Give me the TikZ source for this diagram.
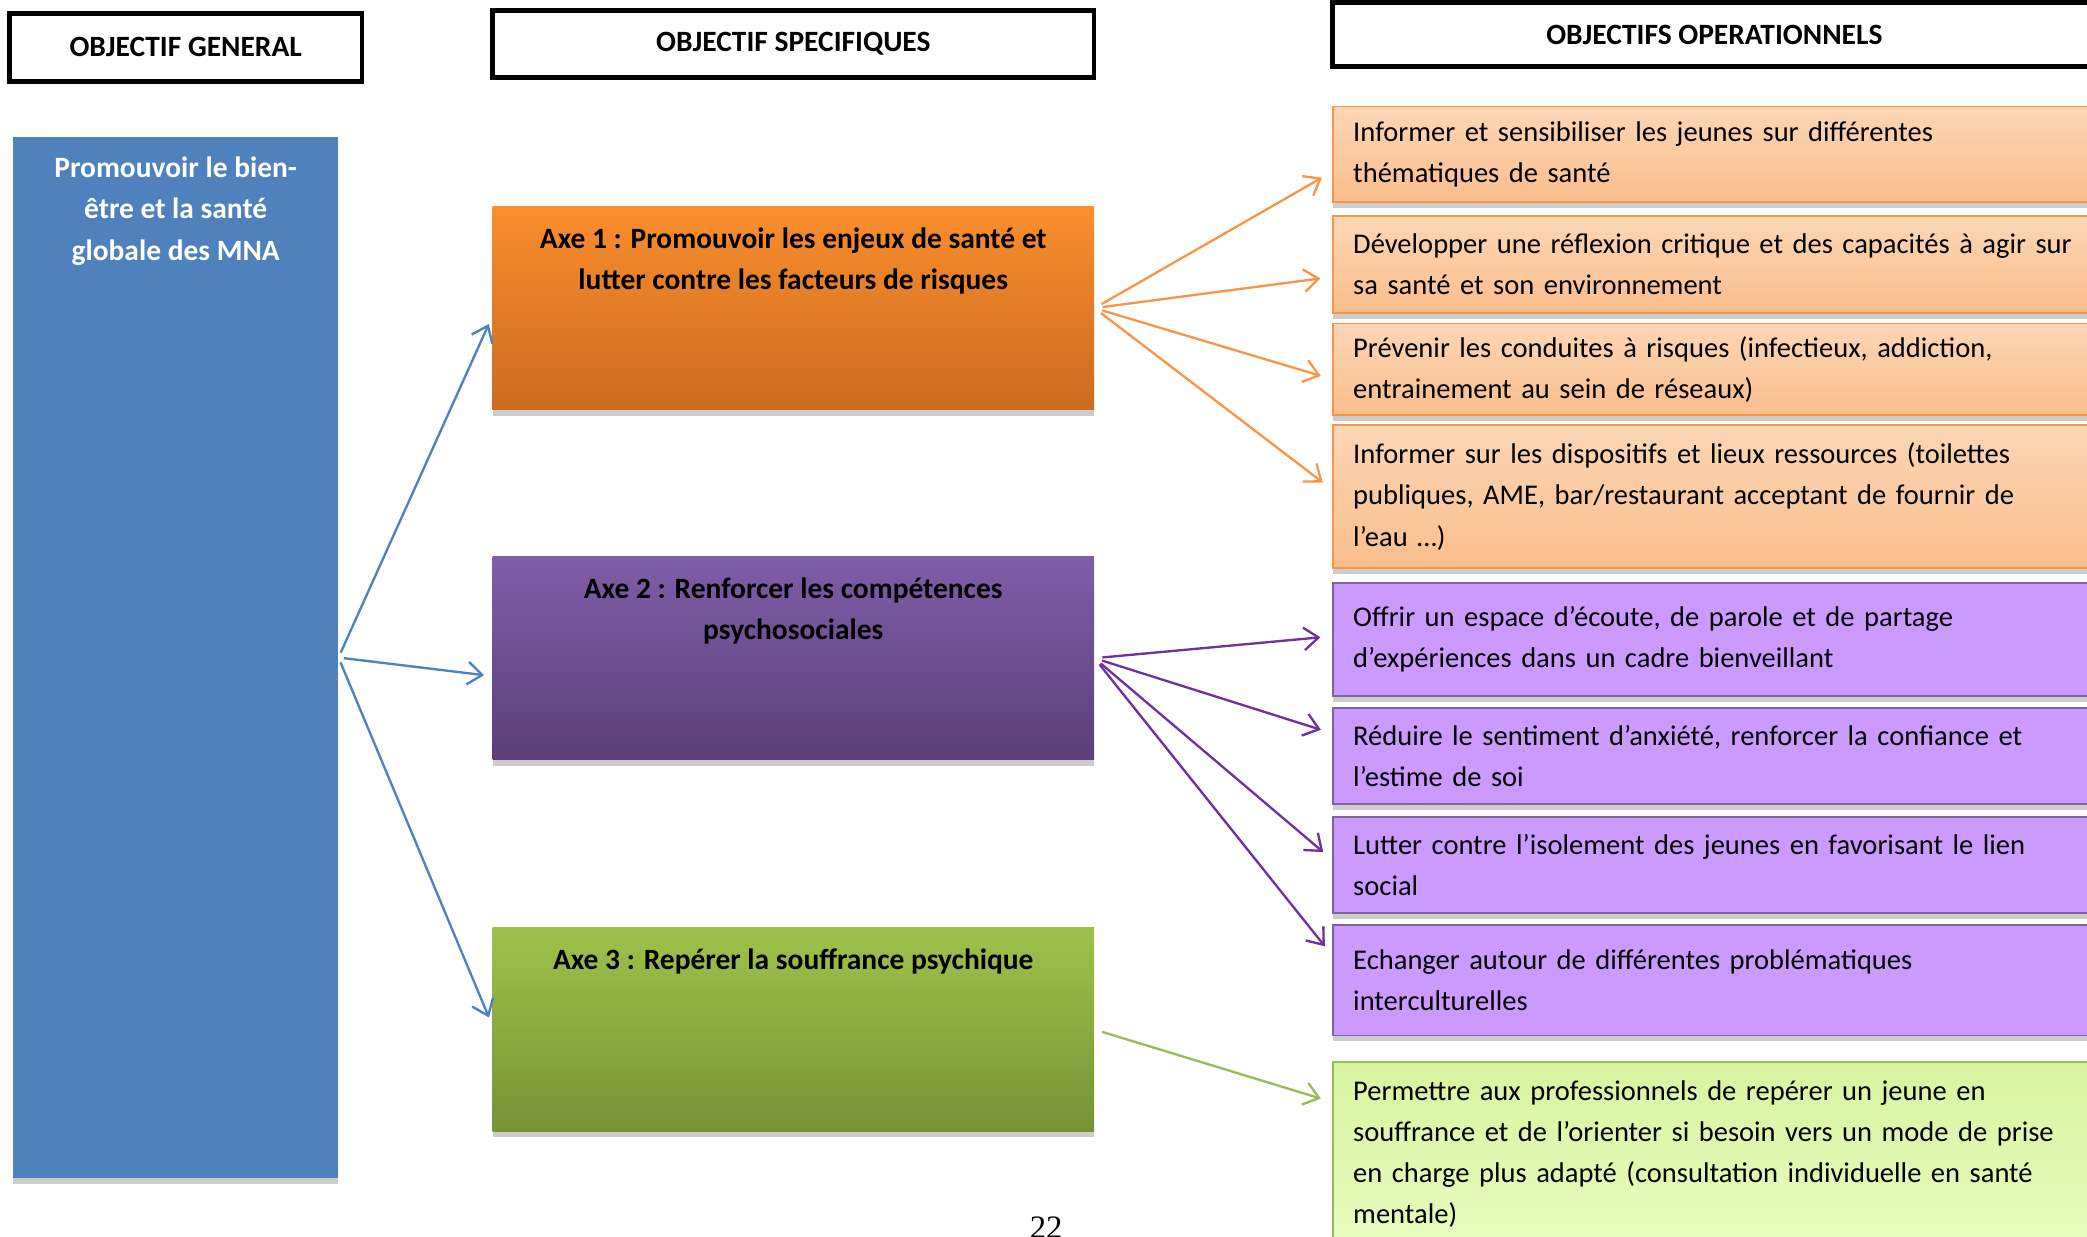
\documentclass[tikz,border=0pt]{standalone}
\usepackage{fontspec}
\setmainfont{Carlito}
\newfontfamily\pagefont{Liberation Serif}
\usetikzlibrary{positioning,arrows.meta,shadows}
\definecolor{genblue}{RGB}{79,129,189}
\definecolor{axeorange}{RGB}{250,142,45}
\definecolor{axeorangedark}{RGB}{203,106,32}
\definecolor{axepurple}{RGB}{128,93,168}
\definecolor{axepurpledark}{RGB}{92,62,120}
\definecolor{axegreen}{RGB}{157,194,75}
\definecolor{axegreendark}{RGB}{118,147,53}
\definecolor{oporange}{RGB}{252,214,182}
\definecolor{oporangedark}{RGB}{250,190,140}
\definecolor{opborder}{RGB}{247,150,70}
\definecolor{oppurple}{RGB}{204,153,255}
\definecolor{oppurpleborder}{RGB}{128,100,162}
\definecolor{opgreen}{RGB}{214,244,160}
\definecolor{opgreenlight}{RGB}{232,251,190}
\definecolor{opgreenborder}{RGB}{155,187,89}
\definecolor{arrowpurple}{RGB}{112,48,160}
\newcommand{\txtsize}{\fontsize{12.2}{17.6}\selectfont}
\newcommand{\boldsize}{\fontsize{12.6}{17.6}\selectfont\bfseries}

\begin{document}
\begin{tikzpicture}[x=0.02cm,y=-0.02cm,>={Straight Barb[length=2.2mm,width=3.4mm]},
	font=\txtsize,
	header/.style={draw,line width=2pt,fill=white,inner sep=0pt,font=\boldsize},
	boxshadow/.style={drop shadow={shadow xshift=0pt,shadow yshift=-2.5pt,fill=black!20,opacity=1}},
	axebox/.style={boxshadow,minimum width=9.04cm,minimum height=3.06cm,inner sep=0pt},
	axetext/.style={inner sep=0pt,align=center,font=\boldsize},
	opbox/.style={boxshadow,anchor=west,minimum width=11.58cm,text width=11.5cm,inner xsep=0.3cm,inner ysep=0pt,align=left,line width=0.8pt},
	oporangebox/.style={opbox,draw=opborder,top color=oporange,bottom color=oporangedark},
	oppurplebox/.style={opbox,draw=oppurpleborder,fill=oppurple},
	opgreenbox/.style={opbox,draw=opgreenborder,top color=opgreen,bottom color=opgreenlight},
	link/.style={->,line width=1pt,shorten <=0.12cm,shorten >=0.18cm}]
\useasboundingbox (0,0) rectangle (1568,929);
\clip (0,0) rectangle (1568,929);

\node[header,minimum width=5.30cm,minimum height=1.02cm] (hgen) at (139.5,35.5) {OBJECTIF GENERAL};
\node[header,minimum width=9.04cm,minimum height=1.0cm] (hspec) at (596,33) {OBJECTIF SPECIFIQUES};
\node[header,minimum width=11.48cm,minimum height=0.96cm] (hop) at (1288,26) {OBJECTIFS OPERATIONNELS};

\node[boxshadow,fill=genblue,minimum width=4.88cm,minimum height=15.64cm,inner sep=0pt] (gen) at (132,494) {};
\node[axetext,text=white,below=0.30cm of gen.north] (gentxt) {Promouvoir le bien-\\être et la santé\\globale des MNA};

\node[axebox,top color=axeorange,bottom color=axeorangedark] (axe1) at (596,231.5) {};
\node[axetext,below=0.32cm of axe1.north] (axe1txt) {Axe 1 : Promouvoir les enjeux de santé et\\lutter contre les facteurs de risques};
\node[axebox,top color=axepurple,bottom color=axepurpledark] (axe2) at (596,494.5) {};
\node[axetext,below=0.32cm of axe2.north] (axe2txt) {Axe 2 : Renforcer les compétences\\psychosociales};
\node[axebox,top color=axegreen,bottom color=axegreendark] (axe3) at (596,773.5) {};
\node[axetext,below=0.32cm of axe3.north] (axe3txt) {Axe 3 : Repérer la souffrance psychique};

\node[oporangebox,minimum height=1.44cm] (o1) at (1001,116) {Informer et sensibiliser les jeunes sur différentes\\thématiques de santé};
\node[oporangebox,minimum height=1.46cm] (o2) at (1001,198.5) {Développer une réflexion critique et des capacités à agir sur\\sa santé et son environnement};
\node[oporangebox,minimum height=1.38cm] (o3) at (1001,277.5) {Prévenir les conduites à risques (infectieux, addiction,\\entrainement au sein de réseaux)};
\node[oporangebox,minimum height=2.16cm] (o4) at (1001,373) {Informer sur les dispositifs et lieux ressources (toilettes\\publiques, AME, bar/restaurant acceptant de fournir de\\l’eau …)};

\node[oppurplebox,minimum height=1.70cm] (p1) at (1001,480.5) {Offrir un espace d’écoute, de parole et de partage\\d’expériences dans un cadre bienveillant};
\node[oppurplebox,minimum height=1.44cm] (p2) at (1001,568) {Réduire le sentiment d’anxiété, renforcer la confiance et\\l’estime de soi};
\node[oppurplebox,minimum height=1.44cm] (p3) at (1001,650) {Lutter contre l’isolement des jeunes en favorisant le lien\\social};
\node[oppurplebox,minimum height=1.66cm] (p4) at (1001,736.5) {Echanger autour de différentes problématiques\\interculturelles};

\node[opgreenbox,minimum height=2.76cm] (g1) at (1001,867) {Permettre aux professionnels de repérer un jeune en\\souffrance et de l’orienter si besoin vers un mode de prise\\en charge plus adapté (consultation individuelle en santé\\mentale)};

\node[anchor=north,inner sep=0pt,font=\pagefont\fontsize{14}{16}\selectfont] (page) at (786,914) {22};

\foreach \t/\dy in {axe1/-0.13,axe2/-0.27,axe3/0.07}{
	\draw[link,genblue,shorten <=0.08cm,shorten >=0.12cm] (gen.east) -- ([yshift=\dy cm]\t.west);
}
\foreach \t/\dy in {o1/-0.26,o2/-0.19,o3/-0.15,o4/0.10}{
	\draw[link,opborder] (axe1.east) -- ([yshift=\dy cm]\t.west);
}
\foreach \t/\dy in {p1/0.05,p2/0.34,p3/0.08,p4/0.37}{
	\draw[link,arrowpurple] (axe2.east) -- ([yshift=\dy cm]\t.west);
}
\draw[link,opgreenborder] (axe3.east) -- ([yshift=0.78cm]g1.west);
\end{tikzpicture}
\end{document}
